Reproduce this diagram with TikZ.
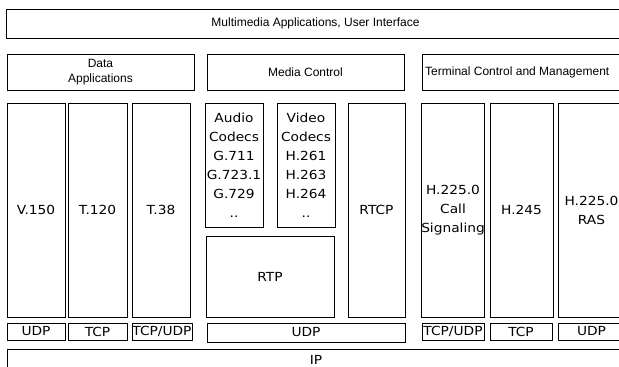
\documentclass[tikz,border=0pt]{standalone}
\usepackage{fontspec}
\newfontfamily\arlfont{Liberation Sans}
\newfontfamily\verfont[FakeStretch=1.1]{DejaVu Sans}
\tikzset{
  layer/.style={draw, line width=0.9pt, inner sep=0pt, align=center},
  uilayer/.style={layer, font=\arlfont\fontsize{12}{15}\selectfont},
  proto/.style={layer, font=\verfont\fontsize{12.5}{19}\selectfont},
}
% box from (x1,y1) to (x2,y2), pixel units
\newcommand{\stackbox}[7][]{%
  \node[#1, minimum width={(#5)-(#3)}, minimum height={(#6)-(#4)}]
    (#2) at ({((#3)+(#5))/2},{((#4)+(#6))/2}) {#7};}

\begin{document}
\begin{tikzpicture}[x=1pt,y=-1pt]
\useasboundingbox (0,0) rectangle (619,367);
\clip (0,0) rectangle (619,367);

%application layer
\stackbox[uilayer]{ui}{6}{9}{625}{38}{Multimedia Applications, User Interface}
\stackbox[uilayer]{data}{7}{54}{194}{90}{Data\\Applications}
\stackbox[uilayer]{media}{207}{54}{404}{90}{Media Control}
\stackbox[uilayer]{term}{422}{54}{625}{90}{}
\node[font=\arlfont\fontsize{12}{15}\selectfont, anchor=west, inner sep=0pt]
  (termtext) at (425,72) {Terminal Control and Management};

%protocols
\stackbox[proto]{v150}{7}{103}{65}{317}{V.150}
\stackbox[proto]{t120}{68}{103}{127}{317}{T.120}
\stackbox[proto]{t38}{132}{103}{190}{317}{T.38}
\stackbox[proto]{audio}{205}{103}{263}{227}{Audio\\Codecs\\G.711\\G.723.1\\G.729\\..}
\stackbox[proto]{video}{277}{103}{335}{227}{Video\\Codecs\\H.261\\H.263\\H.264\\..}
\stackbox[proto]{rtp}{206}{236}{334}{317}{RTP}
\stackbox[proto]{rtcp}{348}{103}{405}{317}{RTCP}
\stackbox[proto]{callsig}{422}{103}{484}{317}{H.225.0\\Call\\Signaling}
\stackbox[proto]{h245}{490}{103}{553}{317}{H.245}
\stackbox[proto]{ras}{558}{103}{625}{317}{H.225.0\\RAS}

%transport
\stackbox[proto]{udpv}{7}{323}{65}{340}{UDP}
\stackbox[proto]{tcpt}{68}{323}{127}{340}{TCP}
\stackbox[proto]{tcpudpf}{132}{323}{192}{340}{TCP/UDP}
\stackbox[proto]{udpm}{207}{323}{405}{342}{UDP}
\stackbox[proto]{tcpudpc}{422}{323}{484}{340}{TCP/UDP}
\stackbox[proto]{tcph}{490}{323}{552}{340}{TCP}
\stackbox[proto]{udpr}{558}{323}{625}{340}{UDP}

%network
\stackbox[proto]{ip}{7}{349}{625}{371}{IP}

\end{tikzpicture}
\end{document}
